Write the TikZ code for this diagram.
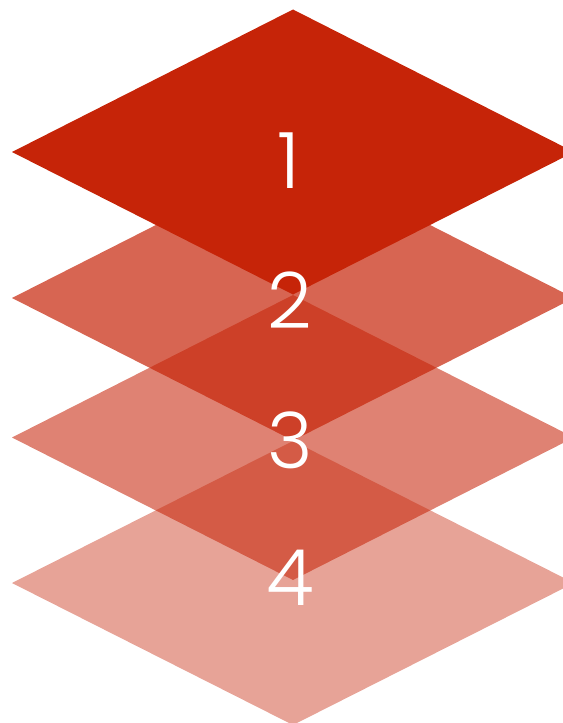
\documentclass[tikz,border=0pt]{standalone}
\usepackage{fontspec}
\setmainfont{Poppins Light}
\definecolor{layerred}{RGB}{198,36,8}
\tikzset{
  layer/.style={fill=layerred, draw=none},
  num/.style={text=white, font=\fontsize{78}{78}\selectfont, inner sep=0pt}
}
\begin{document}
\begin{tikzpicture}[x=1bp,y=-1bp]
\useasboundingbox (0,0) rectangle (563,723);
\clip (0,0) rectangle (563,723);
% layers (bottom to top)
\fill[layer, fill opacity=0.42] (12,583) -- (293,441) -- (574,583) -- (293,725) -- cycle;
\fill[layer, fill opacity=0.57] (12,437.5) -- (293,295) -- (574,437.5) -- (293,580) -- cycle;
\fill[layer, fill opacity=0.70] (12,298) -- (293,155.5) -- (574,298) -- (293,440.5) -- cycle;
\fill[layer] (12,152) -- (293,9.5) -- (574,152) -- (293,294.5) -- cycle;
% labels
\node[num] (n1) at (289,161) {1};
\node[num] (n2) at (290,300) {2};
\node[num] (n3) at (290,440) {3};
\node[num] (n4) at (290,578) {4};
\end{tikzpicture}
\end{document}
